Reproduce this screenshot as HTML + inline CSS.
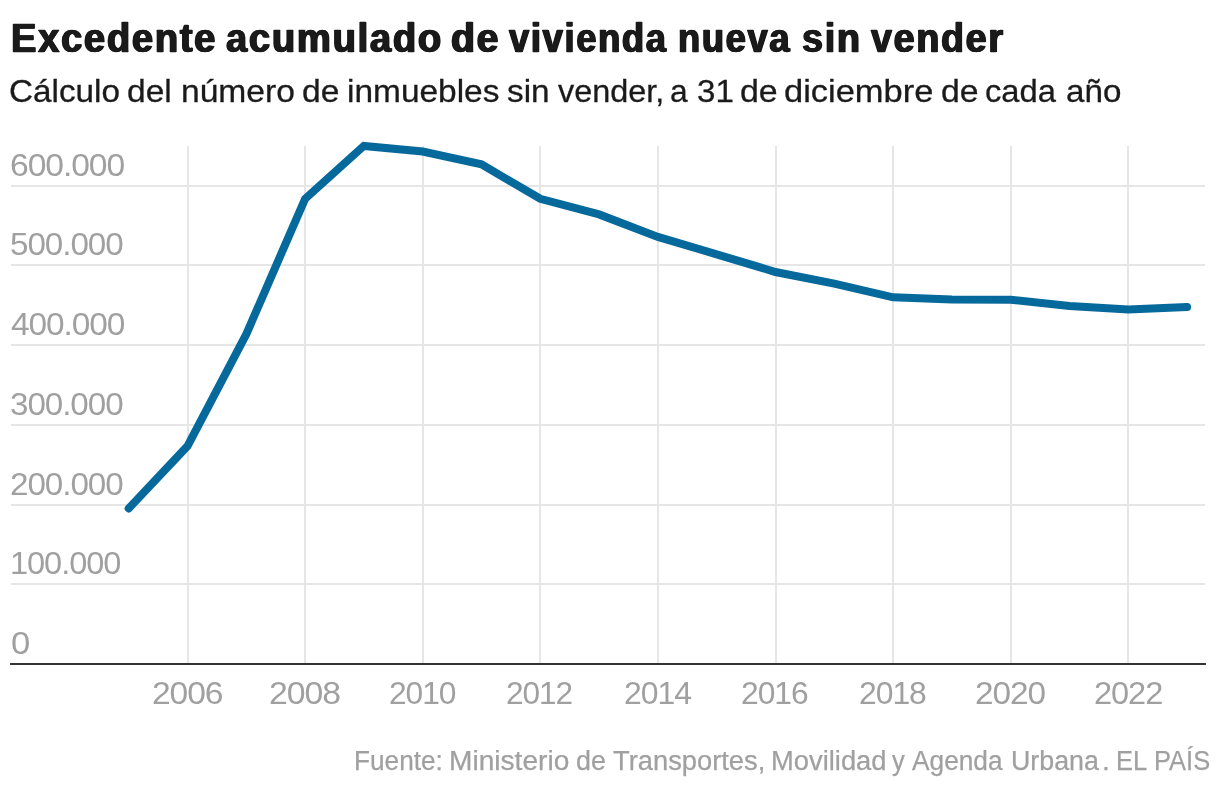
<!DOCTYPE html>
<html lang="es">
<head>
<meta charset="utf-8">
<title>Excedente acumulado de vivienda nueva sin vender</title>
<style>
html,body{margin:0;padding:0;background:#fff;}
body{width:1220px;height:790px;overflow:hidden;position:relative;font-family:"Liberation Sans",sans-serif;}
.chart{position:absolute;left:0;top:0;width:1220px;height:790px;overflow:hidden;}
.abs{position:absolute;left:0;width:1220px;margin:0;white-space:nowrap;line-height:1;}
.abs span{display:inline-block;white-space:nowrap;transform-origin:0 0;}
h1.headline{font-weight:bold;color:#1a1a1a;font-size:40px;height:40px;top:18.0px;-webkit-text-stroke:0.5px #1a1a1a;text-shadow:0.9px 0 0 #1a1a1a,-0.9px 0 0 #1a1a1a;letter-spacing:1.8px;}
p.description{color:#1a1a1a;font-size:32px;height:32px;top:74.5px;-webkit-text-stroke:0.3px #1a1a1a;}
.footer{color:#a0a0a0;font-size:27px;height:27px;top:748.2px;-webkit-text-stroke:0.25px #a0a0a0;}
svg.plot{position:absolute;left:0;top:0;}
.ticks span{position:absolute;white-space:nowrap;line-height:1;transform-origin:0 0;color:#a0a0a0;font-size:31px;letter-spacing:-1px;}
.grid rect{fill:#e6e6e6;}
</style>
</head>
<body>
<div class="chart">
<h1 class="abs headline"><span style="margin-left:10.61px;transform:scaleX(0.9529)">Excedente</span> <span style="margin-left:-14.25px;transform:scaleX(0.9541)">acumulado</span> <span style="margin-left:-14.95px;transform:scaleX(0.9791)">de</span> <span style="margin-left:-5.12px;transform:scaleX(0.9091)">vivienda</span> <span style="margin-left:-18.03px;transform:scaleX(0.9082)">nueva</span> <span style="margin-left:-13.54px;transform:scaleX(0.946)">sin</span> <span style="margin-left:-7.47px;transform:scaleX(0.9417)">vender</span></h1>
<p class="abs description"><span style="margin-left:9.28px;transform:scaleX(1.0391)">Cálculo</span> <span style="margin-left:2.48px;transform:scaleX(1.0482)">del</span> <span style="margin-left:1.84px;transform:scaleX(1.0499)">número</span> <span style="margin-left:3.98px;transform:scaleX(1.05)">de</span> <span style="margin-left:0.58px;transform:scaleX(1.0451)">inmuebles</span> <span style="margin-left:4.78px;transform:scaleX(1.0413)">sin</span> <span style="margin-left:1.27px;transform:scaleX(1.0126)">vender,</span> <span style="margin-left:-1.19px;transform:scaleX(0.992)">a</span> <span style="margin-left:-0.50px;transform:scaleX(1.0345)">31</span> <span style="margin-left:-1.41px;transform:scaleX(1.0591)">de</span> <span style="margin-left:0.30px;transform:scaleX(1.0769)">diciembre</span> <span style="margin-left:8.81px;transform:scaleX(1.056)">de</span> <span style="margin-left:0.06px;transform:scaleX(1.023)">cada</span> <span style="margin-left:1.88px;transform:scaleX(1.0369)">año</span></p>
<svg class="plot" width="1220" height="790" viewBox="0 0 1220 790" role="img" aria-label="Gráfico de líneas">
<g class="grid">
<rect x="11" y="185" width="1194" height="2"/>
<rect x="11" y="264" width="1194" height="2"/>
<rect x="11" y="344" width="1194" height="2"/>
<rect x="11" y="424" width="1194" height="2"/>
<rect x="11" y="504" width="1194" height="2"/>
<rect x="11" y="583" width="1194" height="2"/>
<rect x="187" y="146" width="2" height="517"/>
<rect x="304" y="146" width="2" height="517"/>
<rect x="422" y="146" width="2" height="517"/>
<rect x="539" y="146" width="2" height="517"/>
<rect x="657" y="146" width="2" height="517"/>
<rect x="775" y="146" width="2" height="517"/>
<rect x="892" y="146" width="2" height="517"/>
<rect x="1010" y="146" width="2" height="517"/>
<rect x="1127" y="146" width="2" height="517"/>
</g>
<rect class="baseline" x="10" y="663" width="1196" height="2" fill="#333"/>
<polyline class="line" points="128.7,508.4 187.5,446.1 246.3,334.2 305.1,198.8 363.9,145.9 422.7,151.5 481.5,164.3 540.3,198.8 599.1,214.4 657.9,236.9 716.7,254.3 775.5,272.0 834.3,283.7 893.1,297.3 951.9,299.6 1010.7,299.7 1069.5,306.0 1128.3,309.6 1187.1,307.1" fill="none" stroke="#06699b" stroke-width="8" stroke-linecap="round" stroke-linejoin="miter"/>
</svg>
<div class="ticks y-ticks">
<span style="left:9.8px;top:149.76px;transform:scaleX(1.0864)">600.000</span>
<span style="left:10.32px;top:228.76px;transform:scaleX(1.0718)">500.000</span>
<span style="left:11.15px;top:308.76px;transform:scaleX(1.0792)">400.000</span>
<span style="left:10.38px;top:388.76px;transform:scaleX(1.0713)">300.000</span>
<span style="left:10.26px;top:468.76px;transform:scaleX(1.0723)">200.000</span>
<span style="left:10.26px;top:547.76px;transform:scaleX(1.0505)">100.000</span>
<span style="left:10.52px;top:627.76px;transform:scaleX(1.118)">0</span>
</div>
<div class="ticks x-ticks">
<span style="left:151.85px;top:677.76px;transform:scaleX(1.0843)">2006</span>
<span style="left:268.94px;top:677.76px;transform:scaleX(1.0904)">2008</span>
<span style="left:388.84px;top:677.76px;transform:scaleX(1.0232)">2010</span>
<span style="left:506.45px;top:677.76px;transform:scaleX(1.0183)">2012</span>
<span style="left:623.53px;top:677.76px;transform:scaleX(1.0306)">2014</span>
<span style="left:741.44px;top:677.76px;transform:scaleX(1.024)">2016</span>
<span style="left:859.03px;top:677.76px;transform:scaleX(1.0286)">2018</span>
<span style="left:975.16px;top:677.76px;transform:scaleX(1.0754)">2020</span>
<span style="left:1093.7px;top:677.76px;transform:scaleX(1.0501)">2022</span>
</div>
<div class="abs footer"><span style="margin-left:353.77px;transform:scaleX(0.97)">Fuente:</span> <span style="margin-left:-4.03px;transform:scaleX(1.0413)">Ministerio</span> <span style="margin-left:4.33px;transform:scaleX(0.9964)">de</span> <span style="margin-left:-0.84px;transform:scaleX(1.0114)">Transportes,</span> <span style="margin-left:-0.12px;transform:scaleX(1.0129)">Movilidad</span> <span style="margin-left:-0.01px;transform:scaleX(0.9431)">y</span> <span style="margin-left:-1.43px;transform:scaleX(0.9731)">Agenda</span> <span style="margin-left:-2.18px;transform:scaleX(0.9931)">Urbana</span><span style="margin-left:3.24px;transform:scaleX(1.0431)">.</span> <span style="margin-left:-1.46px;transform:scaleX(0.9431)">EL</span> <span style="margin-left:-2.29px;transform:scaleX(0.9431)">PAÍS</span></div>
</div>
</body>
</html>
